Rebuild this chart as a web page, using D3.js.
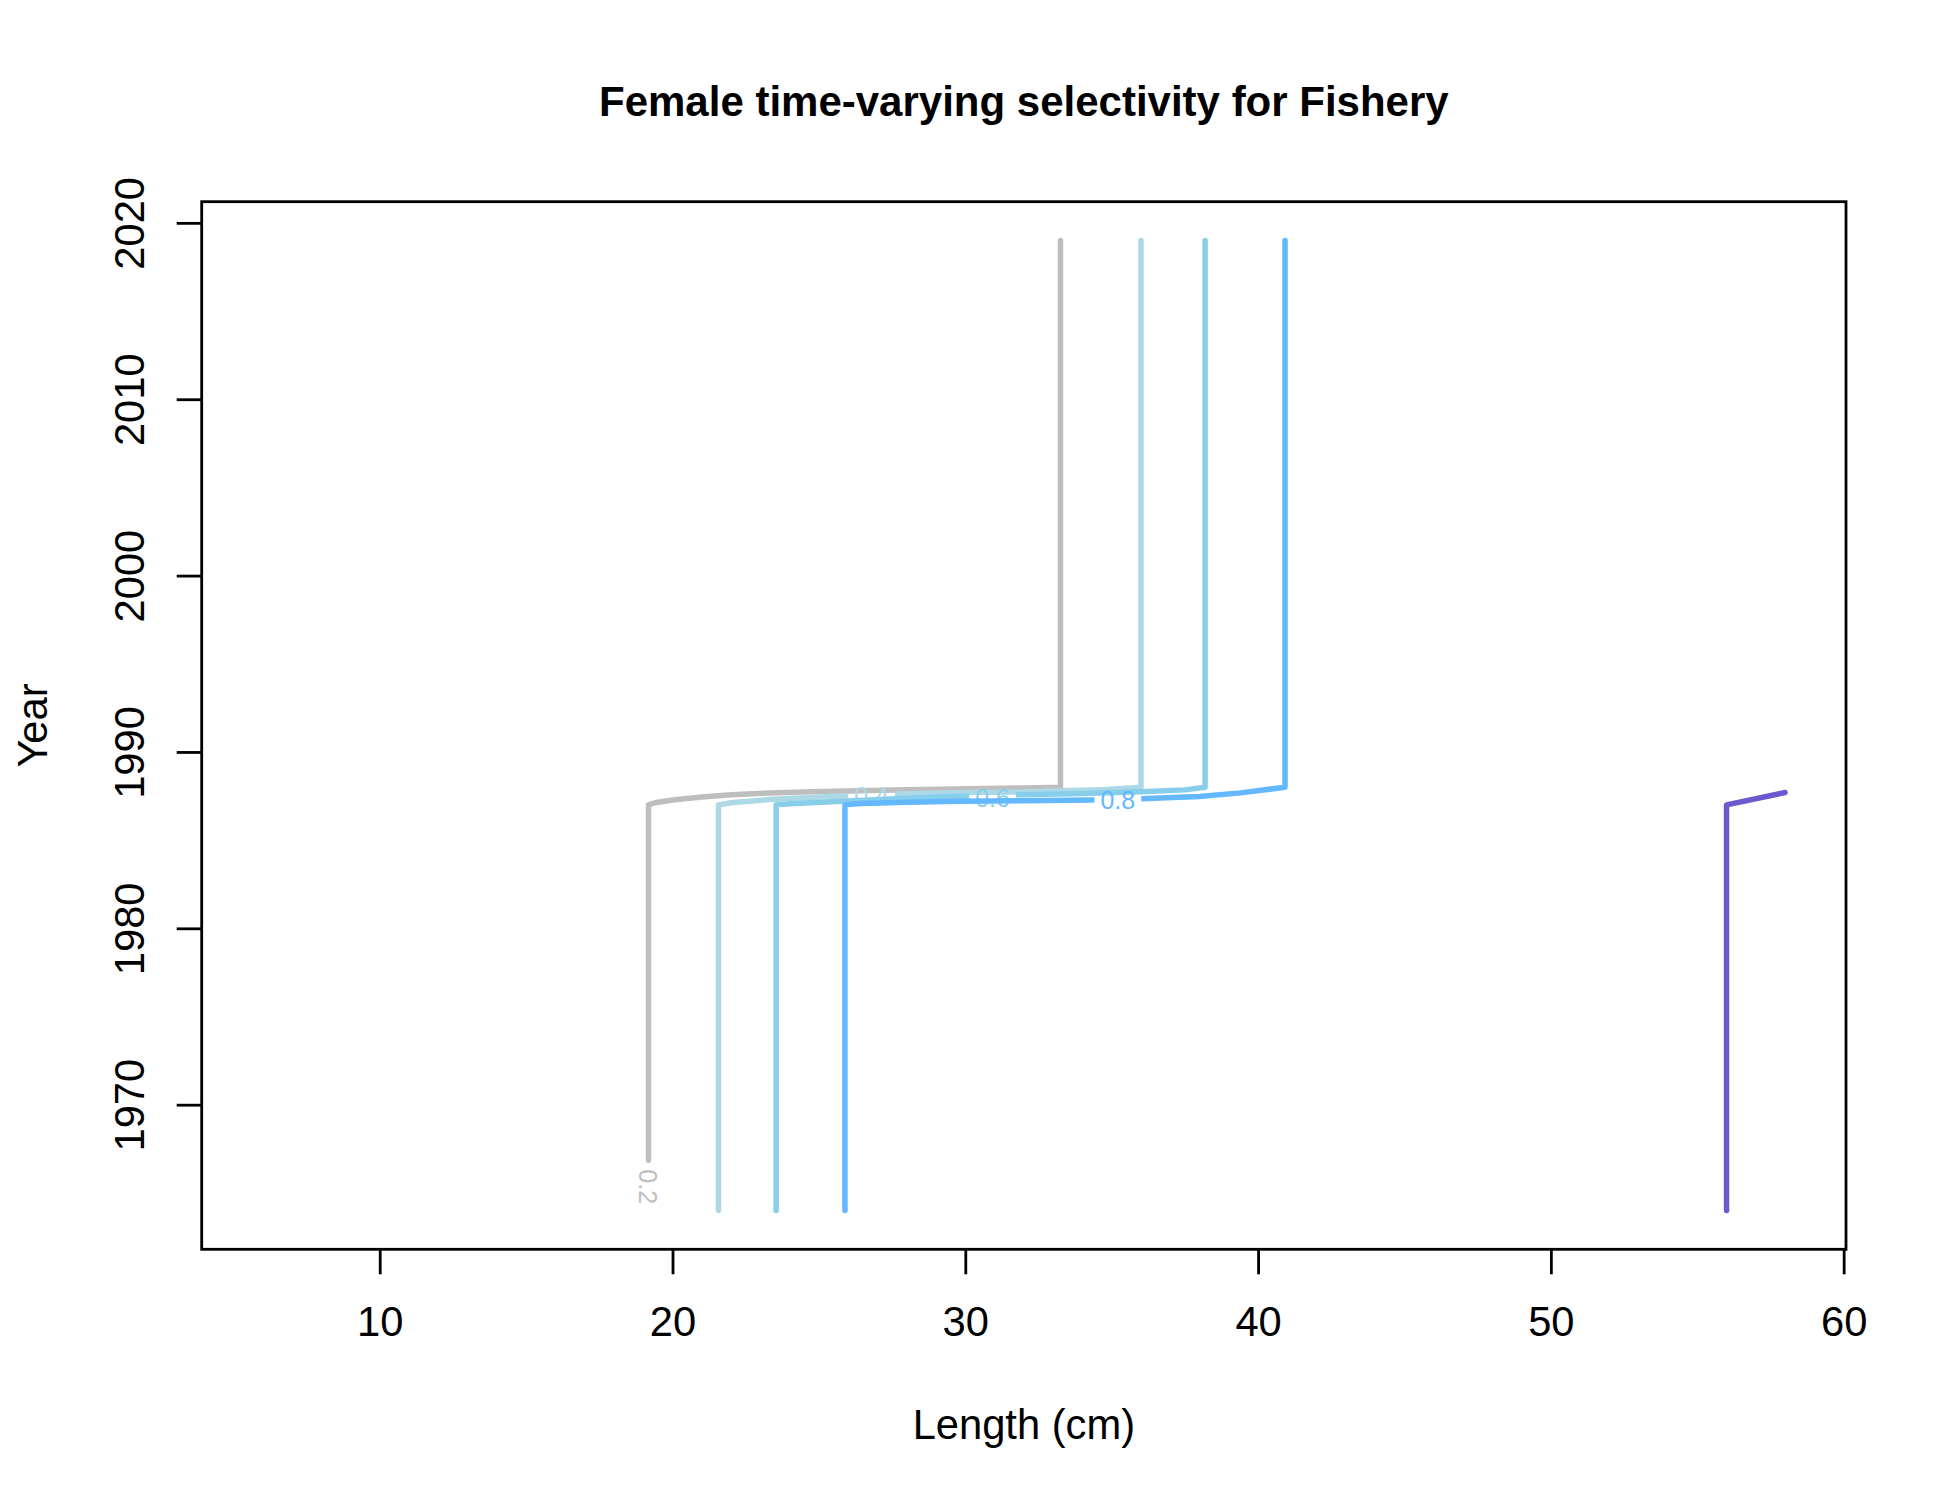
<!DOCTYPE html>
<html><head><meta charset="utf-8">
<script src="https://cdn.jsdelivr.net/npm/d3@7"></script>
<style>
body{margin:0;background:#fff}
svg{display:block}
text{font-family:"Liberation Sans",Arial,Helvetica,sans-serif}
</style>
</head><body>
<svg id="chart" width="1950" height="1500"></svg>
<script>
// ---------- data ----------
const chartTitle = "Female time-varying selectivity for Fishery";
const xLabel = "Length (cm)";
const yLabel = "Year";
const xTicks = [10, 20, 30, 40, 50, 60];
const yTicks = [1970, 1980, 1990, 2000, 2010, 2020];
const lengthRange = [6, 58];
const yearRange = [1964, 2019];

const levels = ["0.2", "0.4", "0.6", "0.8", "1"];

// contour lines as [length, year]
const contour02 = [[19.18,1966.85],[19.18,1987],[19.4,1987.12],[20.0,1987.28],[21.0,1987.45],[22.0,1987.58],[23.3,1987.67],[24.7,1987.74],[26.0,1987.78],[28.0,1987.86],[30.1,1987.92],[32.0,1987.96],[33.25,1988],[33.25,2019]];
const contour04 = [[21.57,1964],[21.57,1987],[22.0,1987.12],[23.3,1987.3],[24.7,1987.42],[26.0,1987.52],[27.6,1987.62],[30.1,1987.7],[32.0,1987.74],[34.6,1987.85],[36.0,1988],[36.0,2019]];
const contour06 = [[23.54,1964],[23.54,1987],[24.0,1987.06],[25.8,1987.2],[28.0,1987.38],[30.1,1987.5],[32.0,1987.58],[34.0,1987.65],[36.0,1987.74],[37.5,1987.85],[38.19,1988],[38.19,2019]];
const contour08 = [[25.89,1964],[25.89,1987],[26.4,1987.08],[27.1,1987.11],[28.0,1987.15],[29.8,1987.2],[32.0,1987.24],[34.3,1987.27],[36.0,1987.35],[37.1,1987.42],[38.0,1987.48],[39.4,1987.68],[40.92,1988],[40.92,2019]];
const contour10 = [[56,1964],[56,1987],[58,1987.7]];
const contours = [contour02, contour04, contour06, contour08, contour10];

// contour label placement (length, year, angle)
const labelLengths = [19.18, 26.8, 30.93, 35.21, null];
const labelYears   = [1965.35, 1987.51, 1987.39, 1987.26, null];
const labelAngles  = [90, 0, 0, 0, 0];

// ---------- style ----------
const levelColors = ["#BEBEBE", "#ADD8E6", "#87CEEB", "#63B8FF", "#6A5ACD"];
const W = 1950, H = 1500;
const plot = {left: 201.7, right: 1846, top: 201.7, bottom: 1249.3};
const baseFont = 41.7;
const labelFont = 25;

const svg = d3.select("#chart");
svg.append("rect").attr("width", W).attr("height", H).attr("fill", "#fff");

const ext = (r) => { const d = (r[1]-r[0])*0.04; return [r[0]-d, r[1]+d]; };
const x = d3.scaleLinear().domain(ext(lengthRange)).range([plot.left, plot.right]);
const y = d3.scaleLinear().domain(ext(yearRange)).range([plot.bottom, plot.top]);

const defs = svg.append("defs");
const line = d3.line().x(d => x(d[0])).y(d => y(d[1]));

contours.forEach((pts, i) => {
  const g = svg.append("g");
  const path = g.append("path")
    .attr("d", line(pts))
    .attr("fill", "none")
    .attr("stroke", levelColors[i])
    .attr("stroke-width", 5.5)
    .attr("stroke-linecap", "round")
    .attr("stroke-linejoin", "round");
  if (labelLengths[i] != null) {
    const lx = x(labelLengths[i]), ly = y(labelYears[i]);
    const t = g.append("text")
      .attr("transform", `translate(${lx},${ly}) rotate(${labelAngles[i]})`)
      .attr("text-anchor", "middle")
      .attr("dy", "0.36em")
      .attr("font-size", labelFont)
      .attr("fill", levelColors[i])
      .text(levels[i]);
    const tw = t.node().getComputedTextLength();
    const id = "gap" + i;
    const m = defs.append("mask").attr("id", id).attr("maskUnits", "userSpaceOnUse")
      .attr("x", 0).attr("y", 0).attr("width", W).attr("height", H);
    m.append("rect").attr("x", 0).attr("y", 0).attr("width", W).attr("height", H).attr("fill", "#fff");
    m.append("rect")
      .attr("transform", `translate(${lx},${ly}) rotate(${labelAngles[i]})`)
      .attr("x", -tw/2 - 6).attr("y", -labelFont*0.5)
      .attr("width", tw + 12).attr("height", labelFont)
      .attr("fill", "#000");
    path.attr("mask", `url(#${id})`);
  }
});

// box
svg.append("rect")
  .attr("x", plot.left).attr("y", plot.top)
  .attr("width", plot.right - plot.left).attr("height", plot.bottom - plot.top)
  .attr("fill", "none").attr("stroke", "#000").attr("stroke-width", 2.8);

// x axis
const gx = svg.append("g").attr("transform", `translate(0,${plot.bottom})`)
  .call(d3.axisBottom(x).tickValues(xTicks).tickSize(25).tickSizeOuter(0).tickFormat(d3.format("d")));
gx.select(".domain").remove();
gx.selectAll(".tick line").attr("stroke", "#000").attr("stroke-width", 2.8);
gx.selectAll(".tick text")
  .attr("font-family", '"Liberation Sans",Arial,sans-serif')
  .attr("font-size", baseFont).attr("fill", "#000")
  .attr("y", 87).attr("dy", null);

// y axis
const gy = svg.append("g").attr("transform", `translate(${plot.left},0)`)
  .call(d3.axisLeft(y).tickValues(yTicks).tickSize(25).tickSizeOuter(0).tickFormat(d3.format("d")));
gy.select(".domain").remove();
gy.selectAll(".tick line").attr("stroke", "#000").attr("stroke-width", 2.8);
gy.selectAll(".tick text")
  .attr("font-family", '"Liberation Sans",Arial,sans-serif')
  .attr("font-size", baseFont).attr("fill", "#000")
  .attr("text-anchor", "middle")
  .attr("x", 0).attr("y", -57.7).attr("dy", null)
  .attr("transform", "rotate(-90)");

// title & axis labels
svg.append("text")
  .attr("x", (plot.left + plot.right) / 2).attr("y", 116)
  .attr("text-anchor", "middle").attr("font-weight", "bold")
  .attr("font-size", 42).attr("fill", "#000")
  .text(chartTitle);
svg.append("text")
  .attr("x", (plot.left + plot.right) / 2).attr("y", 1439)
  .attr("text-anchor", "middle").attr("font-size", baseFont).attr("fill", "#000")
  .text(xLabel);
svg.append("text")
  .attr("transform", `translate(47.4,${(plot.top + plot.bottom) / 2}) rotate(-90)`)
  .attr("text-anchor", "middle").attr("font-size", baseFont).attr("fill", "#000")
  .text(yLabel);
</script>
</body></html>
